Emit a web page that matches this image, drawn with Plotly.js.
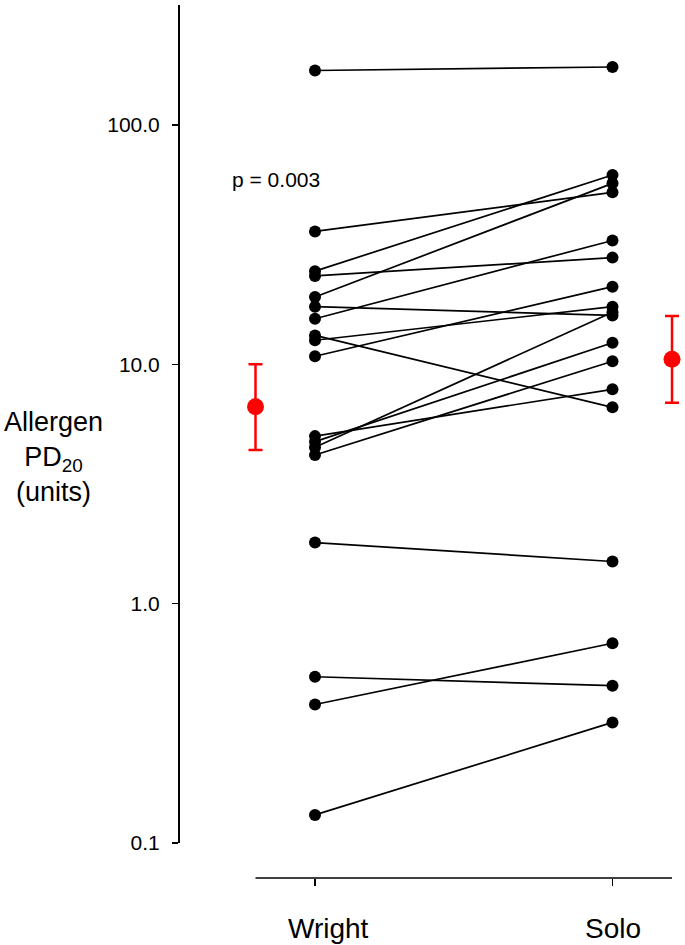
<!DOCTYPE html>
<html>
<head>
<meta charset="utf-8">
<script src="https://cdn.plot.ly/plotly-3.0.1.min.js"></script>
<style>html,body{margin:0;padding:0;background:#fff;}#chart{width:685px;height:945px;}</style>
</head>
<body>
<div id="chart"></div>
<script>
// ---- data ----
var categories = ["Wright", "Solo"];
var wrightValues = [168.8, 35.9, 24.5, 23.4, 19.1, 17.4, 15.5, 13.2, 12.6, 10.8, 5.01, 4.75, 4.50, 4.18, 1.80, 0.495, 0.379, 0.131];
var soloValues   = [174.6, 52.3, 61.8, 27.9, 57.0, 16.0, 32.9, 6.61, 17.4, 21.1, 7.86, 12.3, 16.5, 10.3, 1.50, 0.454, 0.683, 0.319];
var groupMeans = [6.65, 10.5];
var groupUpper = [10.0, 15.9];
var groupLower = [4.38, 6.91];
var yTickValues = [0.1, 1, 10, 100];
var yTickLabels = ["0.1", "1.0", "10.0", "100.0"];
var pText = "p = 0.003";

// ---- traces ----
var FONT = "Liberation Sans, Arial, sans-serif";
var traces = [];
for (var i = 0; i < wrightValues.length; i++) {
  traces.push({
    type: "scatter", mode: "lines+markers",
    x: [1, 2], y: [wrightValues[i], soloValues[i]],
    line: {color: "#000", width: 1.7},
    marker: {color: "#000", size: 12},
    cliponaxis: false, showlegend: false, hoverinfo: "skip"
  });
}
var offsets = [-0.2, 0.2];
for (var g = 0; g < categories.length; g++) {
  traces.push({
    type: "scatter", mode: "markers",
    x: [g + 1 + offsets[g]], y: [groupMeans[g]],
    marker: {color: "#ff0000", size: 17},
    error_y: {type: "data", symmetric: false,
      array: [groupUpper[g] - groupMeans[g]],
      arrayminus: [groupMeans[g] - groupLower[g]],
      color: "#ff0000", thickness: 2.5, width: 7},
    cliponaxis: false, showlegend: false, hoverinfo: "skip"
  });
}

var annotations = [];
for (var c = 0; c < categories.length; c++) {
  annotations.push({
    text: categories[c], xref: "x", yref: "paper", x: c + 1, y: -0.058,
    xanchor: "center", yanchor: "middle", showarrow: false,
    xshift: c === 0 ? 13 : 0,
    font: {family: FONT, size: 28, color: "#000"}
  });
}
annotations.push({
  text: "Allergen<br>PD<sub>20</sub><br>(units)", xref: "paper", yref: "paper",
  x: -0.245, y: 0.482, xanchor: "center", yanchor: "middle", showarrow: false,
  font: {family: FONT, size: 27, color: "#000"}
});
annotations.push({
  text: pText, xref: "x", yref: "y", x: 0.869, y: Math.log10(58.9),
  xanchor: "center", yanchor: "middle", showarrow: false,
  font: {family: FONT, size: 21, color: "#000"}
});

var layout = {
  width: 685, height: 945,
  margin: {l: 178, r: 0, t: 5, b: 67, pad: 0},
  paper_bgcolor: "#fff", plot_bgcolor: "#fff",
  font: {family: FONT, color: "#000"},
  showlegend: false,
  xaxis: {
    range: [0.5395, 2.2437], domain: [0, 1], anchor: "free", position: 0,
    showline: false,
    ticks: "outside", ticklen: 7, tickwidth: 1.5, tickcolor: "#000",
    tickvals: [1, 2], showticklabels: false, showgrid: false, zeroline: false
  },
  yaxis: {
    type: "log", range: [-1, 2.501], domain: [0.0401, 1], anchor: "free", position: 0,
    showline: true, linecolor: "#000", linewidth: 1.5,
    ticks: "outside", ticklen: 6, tickwidth: 1.5, tickcolor: "#000",
    tickvals: yTickValues, ticktext: yTickLabels, ticklabelstandoff: 8,
    tickfont: {family: FONT, size: 21, color: "#000"},
    showgrid: false, zeroline: false
  },
  shapes: [{
    type: "line", xref: "x", yref: "paper", x0: 0.8, x1: 2.2, y0: 0, y1: 0,
    line: {color: "#000", width: 1.5}
  }],
  annotations: annotations
};
Plotly.newPlot("chart", traces, layout, {displayModeBar: false, staticPlot: true});
</script>
</body>
</html>
